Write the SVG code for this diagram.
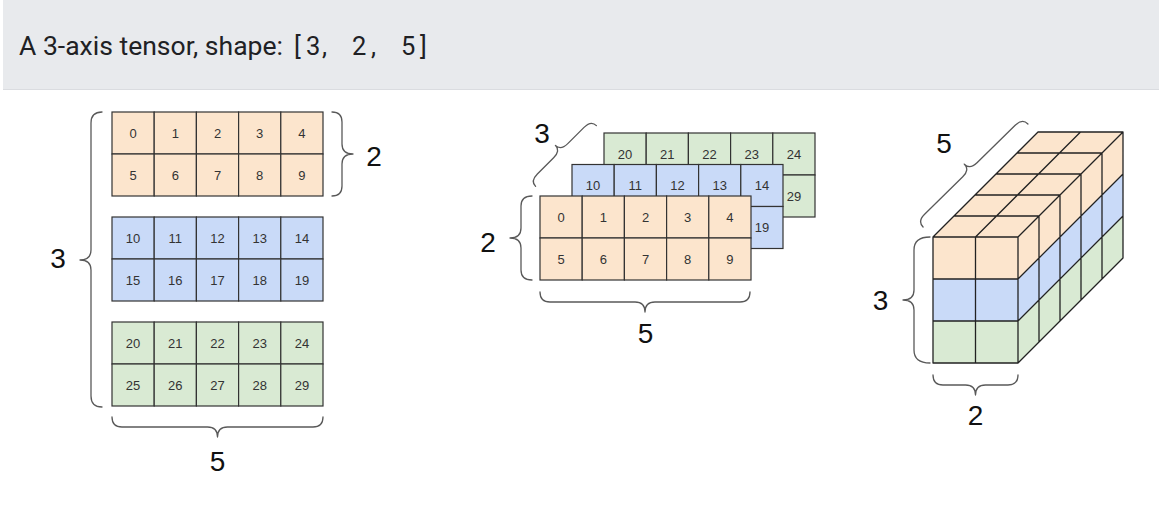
<svg xmlns="http://www.w3.org/2000/svg" width="1159" height="509" viewBox="0 0 1159 509">
<style>
.hdr{font-family:Roboto,"Liberation Sans",sans-serif;font-size:25.5px;fill:#202124}
.c{stroke:#333;stroke-width:1.2}
.o{fill:#fce5cd}.b{fill:#c9daf8}.g{fill:#d9ead3}
.t{font-family:"Liberation Sans",Arial,sans-serif;font-size:13px;fill:#333;text-anchor:middle}
.br{fill:none;stroke:#595959;stroke-width:1.3;stroke-linecap:round;stroke-linejoin:round}
.lb{font-family:"Liberation Sans",Arial,sans-serif;font-size:28px;fill:#111;text-anchor:middle}
.e{fill:none;stroke:#222;stroke-width:1.3;stroke-linejoin:round}
</style>
<defs>
<g id="row5">
<rect class="c" x="0" y="0" width="42.2" height="42"/><rect class="c" x="42.2" y="0" width="42.2" height="42"/><rect class="c" x="84.4" y="0" width="42.2" height="42"/><rect class="c" x="126.6" y="0" width="42.2" height="42"/><rect class="c" x="168.8" y="0" width="42.2" height="42"/>
</g>
</defs>
<g id="header">
<rect x="3" y="0" width="1156" height="89" fill="#e8eaed"/>
<line x1="3" y1="89.5" x2="1159" y2="89.5" stroke="#dadce0" stroke-width="1"/>
<text class="hdr" x="19" y="55" textLength="264" lengthAdjust="spacingAndGlyphs">A 3-axis tensor, shape:</text>
<text class="hdr" y="55"><tspan x="294">[</tspan><tspan x="306">3</tspan><tspan x="322">,</tspan><tspan x="352">2</tspan><tspan x="371">,</tspan><tspan x="401">5</tspan><tspan x="420">]</tspan></text>
</g>
<g id="fig-flat">
<g id="layer0-flat" class="o"><use href="#row5" x="112" y="112"/><use href="#row5" x="112" y="154"/>
<text class="t" x="133.1" y="137.5">0</text><text class="t" x="175.3" y="137.5">1</text><text class="t" x="217.5" y="137.5">2</text><text class="t" x="259.7" y="137.5">3</text><text class="t" x="301.9" y="137.5">4</text>
<text class="t" x="133.1" y="179.5">5</text><text class="t" x="175.3" y="179.5">6</text><text class="t" x="217.5" y="179.5">7</text><text class="t" x="259.7" y="179.5">8</text><text class="t" x="301.9" y="179.5">9</text></g>
<g id="layer1-flat" class="b"><use href="#row5" x="112" y="217"/><use href="#row5" x="112" y="259"/>
<text class="t" x="133.1" y="242.5">10</text><text class="t" x="175.3" y="242.5">11</text><text class="t" x="217.5" y="242.5">12</text><text class="t" x="259.7" y="242.5">13</text><text class="t" x="301.9" y="242.5">14</text>
<text class="t" x="133.1" y="284.5">15</text><text class="t" x="175.3" y="284.5">16</text><text class="t" x="217.5" y="284.5">17</text><text class="t" x="259.7" y="284.5">18</text><text class="t" x="301.9" y="284.5">19</text></g>
<g id="layer2-flat" class="g"><use href="#row5" x="112" y="322"/><use href="#row5" x="112" y="364"/>
<text class="t" x="133.1" y="347.5">20</text><text class="t" x="175.3" y="347.5">21</text><text class="t" x="217.5" y="347.5">22</text><text class="t" x="259.7" y="347.5">23</text><text class="t" x="301.9" y="347.5">24</text>
<text class="t" x="133.1" y="389.5">25</text><text class="t" x="175.3" y="389.5">26</text><text class="t" x="217.5" y="389.5">27</text><text class="t" x="259.7" y="389.5">28</text><text class="t" x="301.9" y="389.5">29</text></g>
<g id="braces-flat">
<path class="br" d="M102,112 Q91,112 91,123 L91,250 Q91,260 80,260 Q91,260 91,270 L91,396 Q91,407 102,407"/>
<path class="br" d="M332,112 Q342,112 342,122 L342,144 Q342,154 353,154 Q342,154 342,164 L342,186 Q342,196 332,196"/>
<path class="br" d="M112,417 Q112,427 122,427 L207.5,427 Q217.5,427 217.5,437 Q217.5,427 227.5,427 L313,427 Q323,427 323,417"/>
<text class="lb" x="58" y="268">3</text>
<text class="lb" x="374" y="166">2</text>
<text class="lb" x="217.5" y="471">5</text>
</g>
</g>
<g id="fig-stacked">
<g id="layer2-stack" class="g"><use href="#row5" x="604" y="133"/><use href="#row5" x="604" y="175"/>
<text class="t" x="625.1" y="158.5">20</text><text class="t" x="667.3" y="158.5">21</text><text class="t" x="709.5" y="158.5">22</text><text class="t" x="751.7" y="158.5">23</text><text class="t" x="793.9" y="158.5">24</text>
<text class="t" x="625.1" y="200.5">25</text><text class="t" x="667.3" y="200.5">26</text><text class="t" x="709.5" y="200.5">27</text><text class="t" x="751.7" y="200.5">28</text><text class="t" x="793.9" y="200.5">29</text></g>
<g id="layer1-stack" class="b"><use href="#row5" x="572" y="164.5"/><use href="#row5" x="572" y="206.5"/>
<text class="t" x="593.1" y="190">10</text><text class="t" x="635.3" y="190">11</text><text class="t" x="677.5" y="190">12</text><text class="t" x="719.7" y="190">13</text><text class="t" x="761.9" y="190">14</text>
<text class="t" x="593.1" y="232">15</text><text class="t" x="635.3" y="232">16</text><text class="t" x="677.5" y="232">17</text><text class="t" x="719.7" y="232">18</text><text class="t" x="761.9" y="232">19</text></g>
<g id="layer0-stack" class="o"><use href="#row5" x="540" y="196"/><use href="#row5" x="540" y="238"/>
<text class="t" x="561.1" y="221.5">0</text><text class="t" x="603.3" y="221.5">1</text><text class="t" x="645.5" y="221.5">2</text><text class="t" x="687.7" y="221.5">3</text><text class="t" x="729.9" y="221.5">4</text>
<text class="t" x="561.1" y="263.5">5</text><text class="t" x="603.3" y="263.5">6</text><text class="t" x="645.5" y="263.5">7</text><text class="t" x="687.7" y="263.5">8</text><text class="t" x="729.9" y="263.5">9</text></g>
<g id="braces-stack">
<path class="br" d="M532,196 Q521,196 521,206 L521,228 Q521,238 510,238 Q521,238 521,248 L521,270 Q521,280 532,280"/>
<path class="br" d="M540,292 Q540,302 550,302 L635,302 Q645,302 645,312 Q645,302 655,302 L740,302 Q750,302 750,292"/>
<path class="br" transform="translate(566,156) rotate(-45)" d="M-43,0 Q-43,-7.5 -33,-7.5 L-10,-7.5 Q0,-7.5 0,-15 Q0,-7.5 10,-7.5 L33,-7.5 Q43,-7.5 43,0"/>
<text class="lb" x="488" y="252">2</text>
<text class="lb" x="645.5" y="343">5</text>
<text class="lb" x="542" y="143">3</text>
</g>
</g>
<g id="fig-cube">
<polygon class="o" points="933,237 1018,237 1123,132 1038,132"/>
<polygon class="o" points="1018,237 1123,132 1123,174 1018,279"/>
<polygon class="b" points="1018,279 1123,174 1123,216 1018,321"/>
<polygon class="g" points="1018,321 1123,216 1123,258 1018,363"/>
<rect class="o" x="933" y="237" width="85" height="42"/>
<rect class="b" x="933" y="279" width="85" height="42"/>
<rect class="g" x="933" y="321" width="85" height="42"/>
<path class="e" d="M954,216 H1039 M975,195 H1060 M996,174 H1081 M1017,153 H1102 M975.5,237 L1080.5,132
M1039,216 V342 M1060,195 V321 M1081,174 V300 M1102,153 V279
M1018,279 L1123,174 M1018,321 L1123,216
M933,279 H1018 M933,321 H1018 M975.5,237 V363
M933,237 H1018 V363 H933 Z M933,237 L1038,132 H1123 V258 L1018,363 M1018,237 L1123,132"/>
<g id="braces-cube">
<path class="br" transform="translate(975.5,175.5) rotate(-44.5)" d="M-73.5,0 Q-73.5,-8 -63.5,-8 L-10,-8 Q0,-8 0,-16 Q0,-8 10,-8 L63.5,-8 Q73.5,-8 73.5,0"/>
<path class="br" d="M930,237 Q914,237 914,250 L914,290 Q914,300 903,300 Q914,300 914,310 L914,350 Q914,363 930,363"/>
<path class="br" d="M933,375 Q933,385 943,385 L965.5,385 Q975.5,385 975.5,395 Q975.5,385 985.5,385 L1008,385 Q1018,385 1018,375"/>
<text class="lb" x="944" y="153">5</text>
<text class="lb" x="880.5" y="310">3</text>
<text class="lb" x="975.5" y="425">2</text>
</g>
</g>
</svg>
